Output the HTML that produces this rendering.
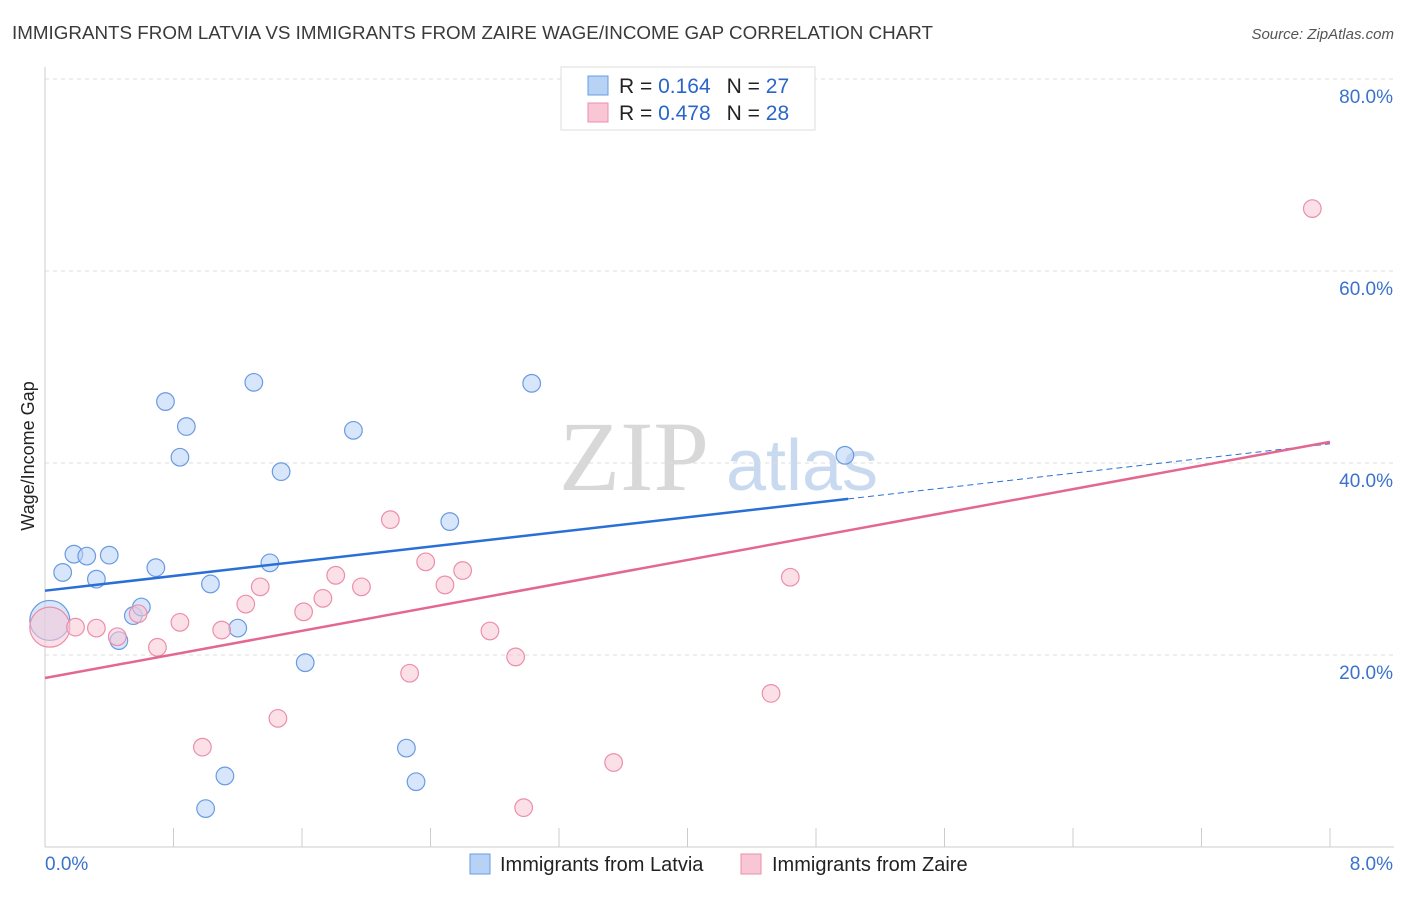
<!DOCTYPE html>
<html><head><meta charset="utf-8"><style>
body{margin:0;background:#fff;font-family:"Liberation Sans",sans-serif}
</style></head><body>
<svg id="chart" width="1406" height="892" xmlns="http://www.w3.org/2000/svg" font-family="Liberation Sans, sans-serif">
<text x="12" y="39" font-size="18" fill="#3a3a3a" textLength="921" lengthAdjust="spacingAndGlyphs">IMMIGRANTS FROM LATVIA VS IMMIGRANTS FROM ZAIRE WAGE/INCOME GAP CORRELATION CHART</text>
<text x="1394" y="39" font-size="15" fill="#555" text-anchor="end" font-style="italic">Source: ZipAtlas.com</text>
<g>
<text x="634" y="490" font-size="100" fill="#d8d8d8" text-anchor="middle" font-family="Liberation Serif, serif">ZIP</text>
<text x="802" y="490" font-size="72" fill="#c9daf0" text-anchor="middle">atlas</text>
</g>
<g id="grid"></g>
<g id="axes"></g>
<g id="marks"></g>
<text transform="translate(34,456) rotate(-90)" font-size="18" fill="#222" text-anchor="middle">Wage/Income Gap</text>
<g>
<rect x="561" y="67" width="254" height="63" fill="#fff" stroke="#ddd"/>
<rect x="588" y="76" width="20" height="19" fill="#b7d2f5" stroke="#6a9be0"/>
<rect x="588" y="103" width="20" height="19" fill="#f9c6d6" stroke="#ec8eaa"/>
<text x="619" y="93" font-size="21" fill="#222">R = <tspan fill="#2a66c9"> 0.164</tspan><tspan dx="16">N = </tspan><tspan fill="#2a66c9">27</tspan></text>
<text x="619" y="120" font-size="21" fill="#222">R = <tspan fill="#2a66c9">0.478</tspan><tspan dx="16">N = </tspan><tspan fill="#2a66c9">28</tspan></text>
</g>
<g>
<rect x="470" y="854" width="20" height="20" fill="#b7d2f5" stroke="#6a9be0"/>
<text x="500" y="871" font-size="20" fill="#222">Immigrants from Latvia</text>
<rect x="741" y="854" width="20" height="20" fill="#f9c6d6" stroke="#ec8eaa"/>
<text x="772" y="871" font-size="20" fill="#222">Immigrants from Zaire</text>
</g>
</svg>
<script>
const yTicks=[20,40,60,80];
const yTickLabels=["20.0%","40.0%","60.0%","80.0%"];
const latviaX=[0.03,0.11,0.18,0.26,0.32,0.40,0.46,0.55,0.60,0.69,0.75,0.84,0.88,1.03,1.12,1.00,1.20,1.30,1.40,1.47,1.62,1.92,2.25,2.31,2.52,3.03,4.98];
const latviaY=[23.6,28.6,30.5,30.3,27.9,30.4,21.5,24.1,25.0,29.1,46.4,40.6,43.8,27.4,7.4,4.0,22.8,48.4,29.6,39.1,19.2,43.4,10.3,6.8,33.9,48.3,40.8];
const zaireX=[0.03,0.19,0.32,0.45,0.58,0.70,0.84,0.98,1.10,1.25,1.34,1.45,1.61,1.73,1.81,1.97,2.15,2.27,2.37,2.49,2.60,2.77,2.93,2.98,3.54,4.52,4.64,7.89];
const zaireY=[22.9,22.9,22.8,21.9,24.3,20.8,23.4,10.4,22.6,25.3,27.1,13.4,24.5,25.9,28.3,27.1,34.1,18.1,29.7,27.3,28.8,22.5,19.8,4.1,8.8,16.0,28.1,66.5];
const latviaTrend=[26.7,42.0];
const zaireTrend=[17.6,42.2];
const latviaSolidEnd=5.0;
const NS="http://www.w3.org/2000/svg";
const sx=v=>45+v*160.625, sy=v=>847-v*9.6;
function mk(tag,attrs,parent){const e=document.createElementNS(NS,tag);for(const k in attrs)e.setAttribute(k,attrs[k]);document.getElementById(parent).appendChild(e);return e;}
yTicks.forEach((t,i)=>{
 const g=mk('line',{x1:45,x2:1394,y1:sy(t),y2:sy(t),stroke:'#ddd','stroke-dasharray':'4,4'},'grid');
 
 
 const l=mk('text',{x:1393,y:sy(t)+24,'font-size':19,fill:'#3a72cc','text-anchor':'end'},'axes');
 l.textContent=yTickLabels[i];
 
 
});
const topG=mk('line',{x1:45,x2:1394,y1:79,y2:79,stroke:'#ddd','stroke-dasharray':'4,4'},'grid');
mk('line',{x1:45,x2:45,y1:67,y2:847,stroke:'#ccc'},'axes');
mk('line',{x1:45,x2:1394,y1:847,y2:847,stroke:'#ccc'},'axes');
for(let i=0;i<=10;i++){const tk=mk('line',{x1:sx(i*0.8),x2:sx(i*0.8),y1:828,y2:847,stroke:'#ccc'},'axes');}
const x0=mk('text',{x:45,y:870,'font-size':19,fill:'#3a72cc'},'axes');x0.textContent='0.0%';


const x8=mk('text',{x:1393,y:870,'font-size':19,fill:'#3a72cc','text-anchor':'end'},'axes');x8.textContent='8.0%';


function pts(xs,ys,fill,stroke,name){xs.forEach((x,i)=>{const c=mk('circle',{cx:sx(x),cy:sy(ys[i]),r:i===0?20:8.8,fill:fill,stroke:stroke,'stroke-width':1.2},'marks');
 
 });}
pts(latviaX,latviaY,'rgba(183,210,245,0.55)','#6a9be0','latvia-point');
pts(zaireX,zaireY,'rgba(249,198,214,0.55)','#ec8eaa','zaire-point');
const f=(t,x)=>t[0]+(t[1]-t[0])*x/8;
const b1=mk('line',{x1:sx(0),y1:sy(f(latviaTrend,0)),x2:sx(latviaSolidEnd),y2:sy(f(latviaTrend,latviaSolidEnd)),stroke:'#2a6fd6','stroke-width':2.5},'marks');


const b2=mk('line',{x1:sx(latviaSolidEnd),y1:sy(f(latviaTrend,latviaSolidEnd)),x2:sx(8),y2:sy(f(latviaTrend,8)),stroke:'#2a6fd6','stroke-width':1,'stroke-dasharray':'6,4'},'marks');


const p1=mk('line',{x1:sx(0),y1:sy(f(zaireTrend,0)),x2:sx(8),y2:sy(f(zaireTrend,8)),stroke:'#e4678f','stroke-width':2.5},'marks');


</script>
</body></html>
